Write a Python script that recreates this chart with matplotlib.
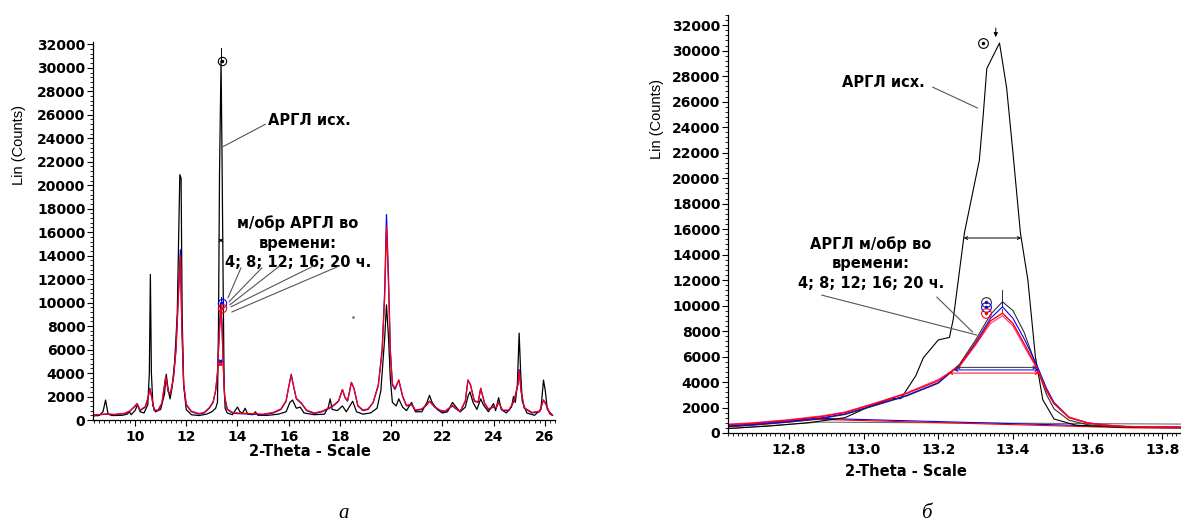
import numpy as np
import matplotlib
matplotlib.use("Agg")
import matplotlib.pyplot as plt
from matplotlib.ticker import MultipleLocator

plt.rcParams['font.family'] = ['DejaVu Sans']

# --- данные (левая панель, широкий диапазон) ---
left_orig_x = [8.36, 8.6, 8.75, 8.85, 8.95, 9.1, 9.5, 9.7, 9.78, 9.85, 10.0, 10.1, 10.2, 10.35, 10.5,
               10.56, 10.6, 10.64, 10.7, 10.8, 11.0, 11.15, 11.22, 11.3, 11.37, 11.45, 11.55, 11.65,
               11.7, 11.75, 11.8, 11.84, 11.9, 12.0, 12.2, 12.5, 12.8, 13.0, 13.15, 13.22, 13.26,
               13.3, 13.36, 13.4, 13.44, 13.48, 13.52, 13.6, 13.8, 14.0, 14.1, 14.2, 14.3, 14.4,
               14.6, 14.7, 14.8, 15.2, 15.6, 15.9, 16.05, 16.15, 16.3, 16.45, 16.6, 17.0, 17.4,
               17.55, 17.62, 17.7, 17.9, 18.1, 18.25, 18.5, 18.65, 18.9, 19.2, 19.45, 19.6, 19.75,
               19.82, 19.9, 19.97, 20.05, 20.2, 20.3, 20.45, 20.6, 20.8, 20.95, 21.2, 21.4, 21.5,
               21.6, 21.8, 22.0, 22.2, 22.4, 22.5, 22.7, 22.9, 23.0, 23.08, 23.2, 23.35, 23.5, 23.6,
               23.8, 24.0, 24.08, 24.2, 24.3, 24.5, 24.7, 24.78, 24.85, 24.93, 25.0, 25.06, 25.12,
               25.3, 25.6, 25.85, 25.95, 26.02, 26.1, 26.3]
left_orig_y = [350, 380, 700, 1700, 500, 380, 400, 500, 700, 450, 800, 1300, 700, 600, 1300,
               4000, 12400, 4000, 1200, 700, 900, 2200, 3900, 2500, 1800, 2800, 5000, 9000,
               15000, 20900, 20600, 9000, 3000, 900, 450, 380, 500, 700, 1000, 1500, 8000,
               21000, 30600, 22000, 12000, 3000, 1000, 600, 450, 1100, 700, 600, 1000, 500,
               450, 700, 400, 400, 500, 700, 1500, 1700, 1000, 1100, 600, 450, 500,
               1100, 1800, 900, 800, 1200, 700, 1600, 700, 500, 600, 1000, 2500, 7000,
               9800, 7000, 3500, 1500, 1200, 1800, 1100, 800, 1500, 700, 700, 1500, 2100,
               1500, 900, 600, 700, 1500, 1200, 700, 1100, 2000, 2400, 1500, 900, 1800, 1300,
               700, 1400, 800, 1900, 900, 600, 1100, 2000, 1500, 3000, 7400, 4000, 1600,
               600, 400, 900, 3400, 2500, 900, 400]

left_tr_x = [8.36, 8.6, 8.9, 9.2, 9.6, 9.8, 10.0, 10.08, 10.2, 10.4, 10.5, 10.58, 10.65, 10.75,
             10.9, 11.05, 11.2, 11.3, 11.38, 11.5, 11.6, 11.7, 11.77, 11.83, 11.9, 12.0, 12.2,
             12.5, 12.7, 12.9, 13.05, 13.15, 13.22, 13.28, 13.35, 13.4, 13.45, 13.5, 13.6, 13.8,
             14.0, 14.5, 15.0, 15.4, 15.7, 15.9, 16.0, 16.1, 16.2, 16.3, 16.5, 16.7, 17.0, 17.3,
             17.6, 17.8, 17.95, 18.1, 18.2, 18.3, 18.45, 18.55, 18.7, 18.9, 19.1, 19.3, 19.5,
             19.65, 19.75, 19.82, 19.9, 19.97, 20.05, 20.15, 20.3, 20.45, 20.6, 20.8, 20.95,
             21.2, 21.4, 21.5, 21.7, 21.9, 22.1, 22.4, 22.5, 22.7, 22.9, 23.0, 23.1, 23.25, 23.4,
             23.5, 23.65, 23.8, 24.0, 24.1, 24.2, 24.35, 24.6, 24.8, 24.95, 25.0, 25.08, 25.2,
             25.5, 25.8, 25.95, 26.05, 26.2, 26.3]
left_blue_y = [400, 450, 500, 450, 550, 750, 1200, 1400, 800, 1100, 1800, 2700, 2000, 800,
               800, 1400, 3700, 2400, 2200, 3600, 6000, 11000, 14500, 8000, 3000, 1300, 700,
               500, 600, 1000, 1500, 2500, 4000, 7000, 10000, 8000, 4500, 2000, 900, 600,
               550, 500, 450, 600, 900, 1600, 2800, 3900, 2800, 1800, 1400, 800, 550, 700,
               1000, 1300, 1600, 2600, 1900, 1600, 3200, 2700, 1200, 800, 900, 1500, 3000,
               6000, 11000, 17500, 12000, 6000, 3000, 2600, 3400, 2000, 1200, 1300, 800,
               900, 1300, 1600, 1100, 800, 700, 1200, 1000, 700, 1600, 3400, 3000, 1600, 1500,
               2700, 1400, 900, 1100, 1000, 1500, 800, 800, 1600, 3000, 4300, 2400, 1000,
               600, 700, 1700, 1300, 500, 400]
left_red_y = [420, 460, 520, 480, 580, 780, 1150, 1350, 850, 1150, 1850, 2600, 1950, 850,
              850, 1450, 3700, 2450, 2250, 3500, 5900, 10800, 14000, 7800, 3100, 1350, 750,
              550, 650, 1050, 1550, 2550, 4000, 6800, 9500, 7700, 4400, 2000, 950, 650,
              600, 550, 500, 650, 950, 1650, 2800, 3800, 2800, 1850, 1450, 850, 600, 750,
              1050, 1350, 1650, 2600, 1950, 1650, 3200, 2700, 1250, 850, 950, 1500, 2900,
              5800, 10500, 16500, 11500, 5800, 3100, 2700, 3400, 2050, 1250, 1350, 850,
              950, 1350, 1600, 1150, 850, 750, 1250, 1050, 750, 1650, 3400, 3000, 1650, 1550,
              2700, 1450, 950, 1150, 1050, 1500, 850, 850, 1650, 3000, 4200, 2400, 1050,
              650, 750, 1700, 1350, 550, 450]

# --- данные (правая панель, пик ~13.37) ---
right_orig_x = [12.637, 12.75, 12.85, 12.95, 13.025, 13.075, 13.1, 13.14, 13.16, 13.2, 13.23,
                13.24, 13.27, 13.31, 13.32, 13.33, 13.364, 13.383, 13.40, 13.42, 13.44, 13.46,
                13.48, 13.51, 13.57, 13.7, 13.85]
right_orig_y = [350, 550, 800, 1200, 2200, 2700, 2700, 4500, 5900, 7300, 7500,
                8900, 15700, 21400, 24800, 28600, 30600, 27100, 22000, 15700, 12000, 6000,
                2600, 1100, 600, 450, 400]

right_tr_x = [12.637, 12.7, 12.8, 12.89, 12.95, 13.025, 13.115, 13.2, 13.257, 13.3, 13.34,
              13.372, 13.40, 13.43, 13.463, 13.49, 13.51, 13.55, 13.6, 13.65, 13.7, 13.78, 13.85]
right_gray_y = [500, 600, 850, 1150, 1450, 2100, 2900, 3900, 5400, 7300, 9300,
                10300, 9600, 7900, 5200, 3000, 1900, 1000, 650, 520, 470, 450, 430]
right_blue_y = [550, 650, 900, 1200, 1500, 2150, 2950, 3950, 5300, 7100, 9000,
                9900, 9000, 7400, 5400, 3500, 2400, 1250, 800, 620, 520, 480, 450]
right_pink_y = [700, 800, 1050, 1350, 1650, 2300, 3150, 4200, 5200, 6900, 8600,
                9200, 8400, 6800, 5100, 3300, 2300, 1250, 800, 620, 520, 480, 450]
right_red_y = [650, 750, 1000, 1300, 1600, 2250, 3100, 4100, 5300, 7000, 8800,
               9400, 8600, 7000, 5200, 3300, 2300, 1200, 780, 600, 500, 470, 450]

# фоновые линии программы обработки
bg_tr_x = [12.637, 12.88, 13.72, 13.85]
bg_tr_y = [550, 1150, 480, 470]
bg_orig_x = [12.637, 12.88, 13.85]
bg_orig_y = [350, 850, 700]

ORIG_C = "black"
GRAY_C = "#303030"
BLUE_C = "#0000ff"
PINK_C = "#ff3399"
RED_C = "#ff0000"

PEAK_WIN = (13.0, 13.7)  # окно пика, для которого строятся метки


def half_width(x, y):
    x = np.asarray(x, float)
    y = np.asarray(y, float)
    inwin = np.where((x >= PEAK_WIN[0]) & (x <= PEAK_WIN[1]))[0]
    i = int(inwin[np.argmax(y[inwin])])
    h = y[i] / 2
    j = i
    while j > 0 and y[j] >= h:
        j -= 1
    xl = x[j] + (h - y[j]) * (x[j + 1] - x[j]) / (y[j + 1] - y[j])
    k = i
    while k < len(y) - 1 and y[k] >= h:
        k += 1
    xr = x[k - 1] + (h - y[k - 1]) * (x[k] - x[k - 1]) / (y[k] - y[k - 1])
    return x[i], y[i], xl, xr, h


def peak_marks(ax, x, y, color, dx, cap, ms=7):
    px, py, xl, xr, h = half_width(x, y)
    if cap:
        ax.plot([px, px], [py, py + cap], color=color, lw=0.7)
    ax.annotate("", xy=(xl, h), xytext=(xr, h),
                arrowprops=dict(arrowstyle="<->", color=color, lw=0.7,
                                mutation_scale=5, shrinkA=0, shrinkB=0))
    ax.plot(px - dx, py, marker="o", ms=ms, mfc="none", mec=color, mew=0.8)
    ax.plot(px - dx, py, marker=".", ms=3, color=color)


def style_axes(ax, xmaj, xmin):
    for s in ["top", "right"]:
        ax.spines[s].set_visible(False)
    ax.spines["left"].set_linewidth(0.9)
    ax.spines["bottom"].set_linewidth(0.9)
    ax.yaxis.set_major_locator(MultipleLocator(2000))
    ax.yaxis.set_minor_locator(MultipleLocator(400))
    ax.xaxis.set_major_locator(MultipleLocator(xmaj))
    ax.xaxis.set_minor_locator(MultipleLocator(xmin))
    ax.tick_params(which="major", length=4, width=0.8, pad=1.5, labelsize=10)
    ax.tick_params(which="minor", length=2, width=0.6)
    ax.tick_params(axis="x", which="major", pad=3)
    for lab in ax.get_xticklabels() + ax.get_yticklabels():
        lab.set_fontweight("bold")


fig = plt.figure(figsize=(11.81, 5.29), dpi=100)

# ---------------- левая панель ----------------
ax1 = fig.add_axes([93 / 1181, 109 / 529, 462 / 1181, 378 / 529])
ax1.plot(left_orig_x, left_orig_y, color=ORIG_C, lw=0.9)
ax1.plot(left_tr_x, left_blue_y, color=BLUE_C, lw=0.9)
ax1.plot(left_tr_x, left_red_y, color=RED_C, lw=0.9)
ax1.set_xlim(8.36, 26.4)
ax1.set_ylim(0, 32200)
style_axes(ax1, 2, 0.2)
ax1.xaxis.set_major_formatter(plt.FuncFormatter(lambda v, p: f"{v:.0f}"))

peak_marks(ax1, left_orig_x, left_orig_y, ORIG_C, -0.04, 1100, ms=6)
peak_marks(ax1, left_tr_x, left_blue_y, BLUE_C, -0.04, 500, ms=6)
peak_marks(ax1, left_tr_x, left_red_y, RED_C, -0.04, 400, ms=6)

ax1.text(15.19, 25500, "АРГЛ исх.", fontsize=10.5, fontweight="bold", ha="left", va="center")
ax1.annotate("", xy=(13.45, 23300), xytext=(15.1, 25200),
             arrowprops=dict(arrowstyle="-", color="#555555", lw=0.8, shrinkA=0, shrinkB=0))
ax1.text(16.36, 15100, "м/обр АРГЛ во\nвремени:\n4; 8; 12; 16; 20 ч.", fontsize=10.5,
         fontweight="bold", ha="center", va="center", linespacing=1.35)
leader_start = [(14.14, 12970), (14.96, 12970), (15.66, 13140), (16.99, 13140), (18.0, 13140)]
leader_end = [(13.63, 10400), (13.67, 10070), (13.7, 9800), (13.75, 9640), (13.78, 9200)]
for (sx, sy), (ex, ey) in zip(leader_start, leader_end):
    ax1.annotate("", xy=(ex, ey), xytext=(sx, sy),
                 arrowprops=dict(arrowstyle="-", color="#555555", lw=0.8, shrinkA=0, shrinkB=0))
ax1.plot(18.5, 8800, marker=".", ms=1.5, color="#555555")

# ---------------- правая панель ----------------
ax2 = fig.add_axes([728 / 1181, 96 / 529, 453 / 1181, 418 / 529])
ax2.plot(bg_orig_x, bg_orig_y, color="#707070", lw=0.8)
ax2.plot(bg_tr_x, bg_tr_y, color=BLUE_C, lw=0.8)
ax2.plot(bg_tr_x, [v - 80 for v in bg_tr_y], color=RED_C, lw=0.8)
ax2.plot(right_orig_x, right_orig_y, color=ORIG_C, lw=0.8)
ax2.plot(right_tr_x, right_gray_y, color=GRAY_C, lw=0.8)
ax2.plot(right_tr_x, right_blue_y, color=BLUE_C, lw=0.8)
ax2.plot(right_tr_x, right_pink_y, color=PINK_C, lw=0.8)
ax2.plot(right_tr_x, right_red_y, color=RED_C, lw=1.0)
ax2.set_xlim(12.637, 13.85)
ax2.set_ylim(0, 32800)
style_axes(ax2, 0.2, 0.0125)
ax2.xaxis.set_major_formatter(plt.FuncFormatter(lambda v, p: f"{v:.1f}"))

peak_marks(ax2, right_orig_x, right_orig_y, ORIG_C, 0.045, 0)
ox, oy = right_orig_x[int(np.argmax(right_orig_y))], max(right_orig_y)
ax2.annotate("", xy=(ox - 0.01, oy + 250), xytext=(ox - 0.01, oy + 1400),
             arrowprops=dict(arrowstyle="-|>", color="black", lw=0.7, mutation_scale=6))
peak_marks(ax2, right_tr_x, right_gray_y, GRAY_C, 0.045, 900)
peak_marks(ax2, right_tr_x, right_blue_y, BLUE_C, 0.045, 400)
peak_marks(ax2, right_tr_x, right_red_y, RED_C, 0.045, 300)

ax2.text(13.054, 27530, "АРГЛ исх.", fontsize=10.5, fontweight="bold", ha="center", va="center")
ax2.annotate("", xy=(13.305, 25500), xytext=(13.185, 27140),
             arrowprops=dict(arrowstyle="-", color="#555555", lw=0.8, shrinkA=0, shrinkB=0))
ax2.text(13.02, 13300, "АРГЛ м/обр во\nвремени:\n4; 8; 12; 16; 20 ч.", fontsize=10.5,
         fontweight="bold", ha="center", va="center", linespacing=1.35)
for (sx, sy), (ex, ey) in [((12.888, 10820), (13.303, 7690)), ((13.196, 10670), (13.292, 7920))]:
    ax2.annotate("", xy=(ex, ey), xytext=(sx, sy),
                 arrowprops=dict(arrowstyle="-", color="#555555", lw=0.8, shrinkA=0, shrinkB=0))

# подписи осей
for cx, cy in [(19, 145), (657, 119)]:
    fig.text(cx / 1181, 1 - cy / 529, "Lin (Counts)", rotation=90, fontsize=10.5,
             ha="center", va="center", family="Liberation Sans")
for cx, cy in [(310, 451), (906, 471)]:
    fig.text(cx / 1181, 1 - cy / 529, "2-Theta - Scale", fontsize=10.5, fontweight="bold",
             ha="center", va="center")

fig.text(344 / 1181, 1 - 513 / 529, "а", fontsize=15, style="italic",
         family="Liberation Serif", ha="center", va="center")
fig.text(926 / 1181, 1 - 513 / 529, "б", fontsize=15, style="italic",
         family="Liberation Serif", ha="center", va="center")

fig.savefig("out.png", dpi=100)
